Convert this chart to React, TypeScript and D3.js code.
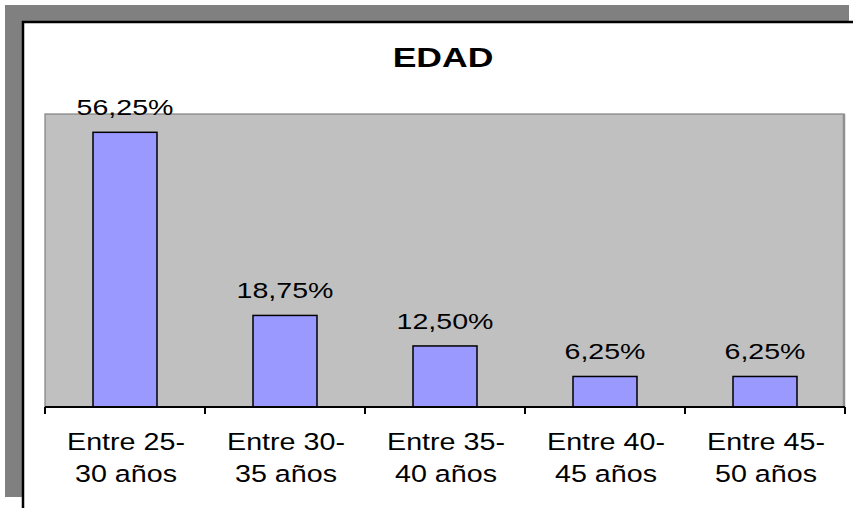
import React from "react";
import * as d3 from "d3";

const title = "EDAD";
const categoryLine1 = ["Entre 25-", "Entre 30-", "Entre 35-", "Entre 40-", "Entre 45-"];
const categoryLine2 = ["30 años", "35 años", "40 años", "45 años", "50 años"];
const values = [56.25, 18.75, 12.5, 6.25, 6.25];
const yMax = 60;

const W = 853;
const H = 508;
const plot = { left: 45, right: 845, top: 114, bottom: 407 };
const FONT = "'Liberation Sans', Arial, Helvetica, sans-serif";

const fmtLocale = d3.formatLocale({ decimal: ",", thousands: ".", grouping: [3], currency: ["", "€"] });
const fmt = (v: number) => fmtLocale.format(".2f")(v) + "%";

export default function App() {
  const idx = values.map((_, i) => i);
  const xCat = d3.scaleBand<number>().domain(idx).range([plot.left, plot.right]).padding(0);
  const xBar = d3.scaleBand<number>().domain(idx).range([plot.left, plot.right]).paddingInner(0.6).paddingOuter(0.3);
  const y = d3.scaleLinear().domain([0, yMax]).range([plot.bottom, plot.top]);
  const step = xCat.step();
  const tickXs = [...idx.map((i) => xCat(i) as number), plot.right];

  return (
    <svg width={W} height={H} style={{ position: "absolute", left: 0, top: 0, background: "#fff" }}>
      {/* outer shadow frame */}
      <rect x={5} y={5} width={844} height={492} fill="#808080" />
      <rect x={23} y={22} width={860} height={520} fill="#ffffff" stroke="#000" strokeWidth={2.5} />
      {/* title */}
      <text
        transform={`translate(443,67) scale(1.27,1)`}
        textAnchor="middle"
        fontFamily={FONT}
        fontWeight="bold"
        fontSize={28}
        fill="#000"
      >
        {title}
      </text>
      {/* plot area */}
      <rect
        x={plot.left}
        y={plot.top}
        width={plot.right - plot.left - 1}
        height={plot.bottom - plot.top}
        fill="#c0c0c0"
        stroke="#808080"
        strokeWidth={1.2}
      />
      <line x1={plot.right - 1} x2={plot.right - 1} y1={plot.top} y2={plot.bottom} stroke="#909090" strokeWidth={2.5} />
      {/* bars */}
      {values.map((v, i) => (
        <rect
          key={i}
          x={xBar(i) as number}
          y={y(v)}
          width={xBar.bandwidth()}
          height={y(0) - y(v)}
          fill="#9999ff"
          stroke="#000"
          strokeWidth={1.5}
        />
      ))}
      {/* data labels */}
      {values.map((v, i) => (
        <text
          key={i}
          transform={`translate(${(xCat(i) as number) + step / 2},${y(v) - 17}) scale(1.27,1)`}
          textAnchor="middle"
          fontFamily={FONT}
          fontSize={22.5}
          fill="#000"
        >
          {fmt(v)}
        </text>
      ))}
      {/* x axis */}
      <line x1={plot.left} x2={plot.right} y1={plot.bottom} y2={plot.bottom} stroke="#000" strokeWidth={2} />
      {tickXs.map((tx, i) => (
        <line key={i} x1={tx} x2={tx} y1={plot.bottom} y2={plot.bottom + 7} stroke="#000" strokeWidth={2} />
      ))}
      {idx.map((i) => {
        const cx = (xCat(i) as number) + step / 2 + 1;
        return (
          <g key={i}>
            <text
              transform={`translate(${cx},450) scale(1.22,1)`}
              textAnchor="middle"
              fontFamily={FONT}
              fontSize={23.5}
              fill="#000"
            >
              {categoryLine1[i]}
            </text>
            <text
              transform={`translate(${cx},481.7) scale(1.22,1)`}
              textAnchor="middle"
              fontFamily={FONT}
              fontSize={23.5}
              fill="#000"
            >
              {categoryLine2[i]}
            </text>
          </g>
        );
      })}
    </svg>
  );
}
